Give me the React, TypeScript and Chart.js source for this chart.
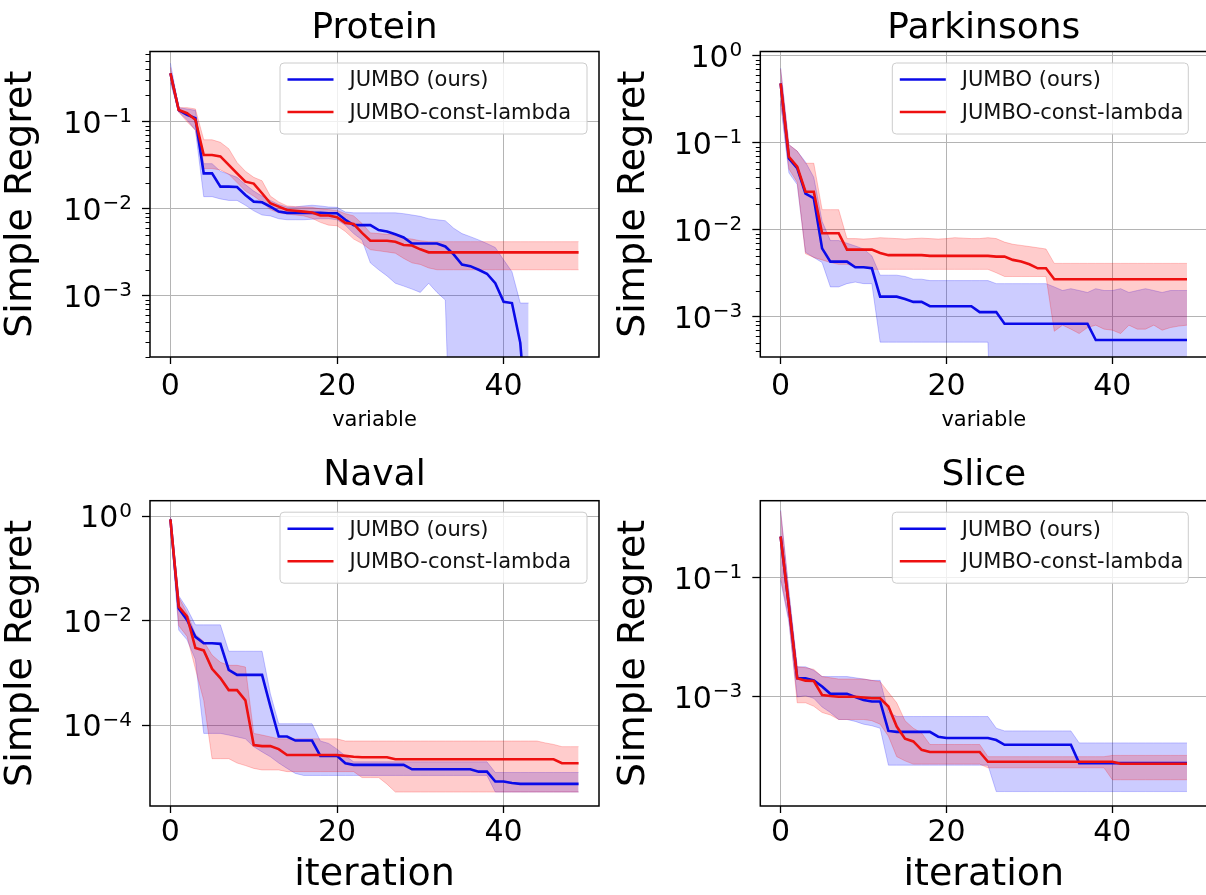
import React, { useEffect, useRef } from "react";
import { Chart, registerables } from "chart.js";

Chart.register(...registerables);

// ---------------- data ----------------
const ITERATIONS = [
  0, 1, 2, 3, 4, 5, 6, 7, 8, 9, 10, 11, 12, 13, 14, 15, 16, 17, 18, 19, 20, 21, 22, 23, 24,
  25, 26, 27, 28, 29, 30, 31, 32, 33, 34, 35, 36, 37, 38, 39, 40, 41, 42, 43, 44, 45, 46, 47, 48, 49,
];
const X_TICKS = [0, 20, 40];
const SERIES_NAMES = ["JUMBO (ours)", "JUMBO-const-lambda"];
const PANEL_TITLES = ["Protein", "Parkinsons", "Naval", "Slice"];
const Y_AXIS_TITLE = "Simple Regret";
const X_AXIS_TITLES = ["variable", "variable", "iteration", "iteration"];
const Y_TICK_BASE = "10";

const PROTEIN_Y_TICKS = [1e-1, 1e-2, 1e-3];
const PROTEIN_Y_EXPONENTS = ["−1", "−2", "−3"];
const PARKINSONS_Y_TICKS = [1, 1e-1, 1e-2, 1e-3];
const PARKINSONS_Y_EXPONENTS = ["0", "−1", "−2", "−3"];
const NAVAL_Y_TICKS = [1, 1e-2, 1e-4];
const NAVAL_Y_EXPONENTS = ["0", "−2", "−4"];
const SLICE_Y_TICKS = [1e-1, 1e-3];
const SLICE_Y_EXPONENTS = ["−1", "−3"];

// Protein
const PROTEIN_JUMBO = [
  0.36, 0.136, 0.12, 0.11, 0.0255, 0.0255, 0.018, 0.018, 0.0178, 0.0144,
  0.0121, 0.0119, 0.0106, 0.0093, 0.009, 0.009, 0.009, 0.009, 0.009, 0.0089,
  0.0089, 0.0075, 0.0065, 0.0065, 0.0065, 0.0057, 0.0055, 0.0051, 0.0047, 0.004,
  0.004, 0.004, 0.004, 0.0037, 0.003, 0.0023, 0.0022, 0.002, 0.0018, 0.0014,
  0.00086, 0.00083, 0.00029, 0.00002, null, null, null, null, null, null,
];
const PROTEIN_JUMBO_UPPER = [
  0.47, 0.145, 0.14, 0.135, 0.033, 0.033, 0.027, 0.025, 0.023, 0.019,
  0.016, 0.014, 0.0125, 0.0112, 0.0105, 0.0105, 0.0108, 0.011, 0.0108, 0.0105,
  0.0104, 0.0092, 0.009, 0.009, 0.009, 0.009, 0.009, 0.009, 0.0088, 0.0085,
  0.0082, 0.0077, 0.0075, 0.0073, 0.006, 0.0052, 0.0048, 0.0044, 0.004, 0.0036,
  0.0026, 0.0019, 0.00083, 0.00083, null, null, null, null, null, null,
];
const PROTEIN_JUMBO_LOWER = [
  0.28, 0.13, 0.105, 0.08, 0.0138, 0.0138, 0.013, 0.0125, 0.0125, 0.011,
  0.0095, 0.0085, 0.0083, 0.0077, 0.0075, 0.0075, 0.0075, 0.0076, 0.0077, 0.0077,
  0.0075, 0.0065, 0.0052, 0.0044, 0.0024, 0.002, 0.0017, 0.0014, 0.0013, 0.0012,
  0.0011, 0.0014, 0.0011, 0.0009, 1e-6, 1e-6, 1e-6, 1e-6, 1e-6, 1e-6,
  1e-6, 1e-6, 1e-6, 1e-6, null, null, null, null, null, null,
];
const PROTEIN_CONST = [
  0.36, 0.136, 0.125, 0.105, 0.0415, 0.0415, 0.04, 0.0319, 0.0255, 0.0205,
  0.0195, 0.0151, 0.0116, 0.0106, 0.0097, 0.0095, 0.0093, 0.0091, 0.0084, 0.0084,
  0.008, 0.0069, 0.0067, 0.0053, 0.0043, 0.0043, 0.0043, 0.0042, 0.00385, 0.0038,
  0.00343, 0.00317, 0.00317, 0.00317, 0.00317, 0.00317, 0.00317, 0.00317, 0.00317, 0.00317,
  0.00317, 0.00317, 0.00317, 0.00317, 0.00317, 0.00317, 0.00317, 0.00317, 0.00317, 0.00317,
];
const PROTEIN_CONST_UPPER = [
  0.42, 0.145, 0.145, 0.14, 0.062, 0.062, 0.058, 0.049, 0.034, 0.027,
  0.023, 0.021, 0.014, 0.012, 0.0108, 0.0106, 0.0105, 0.0104, 0.01, 0.0098,
  0.0096, 0.0088, 0.0083, 0.0068, 0.0053, 0.0052, 0.0051, 0.005, 0.0046, 0.0045,
  0.0043, 0.0042, 0.0042, 0.0042, 0.0042, 0.0042, 0.0042, 0.0042, 0.0042, 0.0042,
  0.0042, 0.0042, 0.0042, 0.0042, 0.0042, 0.0042, 0.0042, 0.0042, 0.0042, 0.0042,
];
const PROTEIN_CONST_LOWER = [
  0.3, 0.128, 0.1, 0.08, 0.029, 0.029, 0.028, 0.025, 0.02, 0.016,
  0.014, 0.012, 0.0098, 0.009, 0.0087, 0.0085, 0.0083, 0.0078, 0.007, 0.0065,
  0.0064, 0.0055, 0.0045, 0.004, 0.0034, 0.0033, 0.0032, 0.0031, 0.0027, 0.0024,
  0.0023, 0.0021, 0.002, 0.002, 0.002, 0.002, 0.002, 0.002, 0.002, 0.002,
  0.002, 0.002, 0.002, 0.002, 0.002, 0.002, 0.002, 0.002, 0.002, 0.002,
];

// Parkinsons
const PARKINSONS_JUMBO = [
  0.48, 0.066, 0.051, 0.026, 0.023, 0.0061, 0.0043, 0.0043, 0.0043, 0.0037,
  0.0037, 0.0036, 0.0017, 0.0017, 0.0017, 0.0016, 0.00148, 0.00148, 0.00132, 0.00132,
  0.00132, 0.00132, 0.00132, 0.00132, 0.00113, 0.00113, 0.00113, 0.00083, 0.00083, 0.00083,
  0.00083, 0.00083, 0.00083, 0.00083, 0.00083, 0.00083, 0.00083, 0.00083, 0.00054, 0.00054,
  0.00054, 0.00054, 0.00054, 0.00054, 0.00054, 0.00054, 0.00054, 0.00054, 0.00054, 0.00054,
];
const PARKINSONS_JUMBO_UPPER = [
  0.72, 0.095, 0.08, 0.06, 0.04, 0.0125, 0.0075, 0.0075, 0.007, 0.0065,
  0.006, 0.005, 0.003, 0.003, 0.003, 0.0029, 0.0027, 0.0027, 0.0026, 0.0026,
  0.0026, 0.0026, 0.0026, 0.0026, 0.0026, 0.0026, 0.0024, 0.0024, 0.0024, 0.0024,
  0.0024, 0.0024, 0.0024, 0.0022, 0.002, 0.0021, 0.002, 0.0019, 0.0021, 0.002,
  0.002, 0.0021, 0.0019, 0.002, 0.0021, 0.002, 0.0019, 0.002, 0.002, 0.002,
];
const PARKINSONS_JUMBO_LOWER = [
  0.28, 0.045, 0.033, 0.0055, 0.0048, 0.0042, 0.0022, 0.0022, 0.0024, 0.0025,
  0.0024, 0.0024, 0.00051, 0.00051, 0.00051, 0.00051, 0.00051, 0.00051, 0.00051, 0.00051,
  0.00051, 0.00051, 0.00051, 0.00051, 0.00051, 0.00051, 1e-6, 1e-6, 1e-6, 1e-6,
  1e-6, 1e-6, 1e-6, 1e-6, 1e-6, 1e-6, 1e-6, 1e-6, 1e-6, 1e-6,
  1e-6, 1e-6, 1e-6, 1e-6, 1e-6, 1e-6, 1e-6, 1e-6, 1e-6, 1e-6,
];
const PARKINSONS_CONST = [
  0.48, 0.069, 0.053, 0.0273, 0.0273, 0.0091, 0.0091, 0.0091, 0.0059, 0.0059,
  0.0059, 0.0059, 0.0054, 0.0051, 0.0051, 0.0051, 0.0051, 0.0051, 0.005, 0.005,
  0.005, 0.005, 0.005, 0.005, 0.005, 0.005, 0.0049, 0.0049, 0.0045, 0.0043,
  0.004, 0.0036, 0.0036, 0.0027, 0.0027, 0.0027, 0.0027, 0.0027, 0.0027, 0.0027,
  0.0027, 0.0027, 0.0027, 0.0027, 0.0027, 0.0027, 0.0027, 0.0027, 0.0027, 0.0027,
];
const PARKINSONS_CONST_UPPER = [
  0.7, 0.095, 0.08, 0.058, 0.058, 0.017, 0.017, 0.017, 0.0079, 0.0079,
  0.0078, 0.0079, 0.0081, 0.008, 0.0079, 0.0078, 0.0079, 0.008, 0.0079, 0.0078,
  0.0079, 0.0081, 0.008, 0.0079, 0.0079, 0.0081, 0.0079, 0.0072, 0.0068, 0.0066,
  0.0064, 0.0062, 0.006, 0.0041, 0.0041, 0.0041, 0.0041, 0.0041, 0.0041, 0.0041,
  0.0041, 0.0041, 0.0041, 0.0041, 0.0041, 0.0041, 0.0041, 0.0041, 0.0041, 0.0041,
];
const PARKINSONS_CONST_LOWER = [
  0.3, 0.05, 0.035, 0.0053, 0.0048, 0.0045, 0.0042, 0.004, 0.004, 0.0038,
  0.0037, 0.0035, 0.0035, 0.0035, 0.0035, 0.0035, 0.0035, 0.0035, 0.0035, 0.0035,
  0.0035, 0.0035, 0.0035, 0.0035, 0.0035, 0.0035, 0.0032, 0.0029, 0.0029, 0.0029,
  0.0029, 0.0029, 0.0029, 0.00068, 0.0008, 0.00072, 0.00064, 0.00075, 0.0008, 0.00072,
  0.0007, 0.00064, 0.0008, 0.00072, 0.00072, 0.0008, 0.0007, 0.00075, 0.00078, 0.0008,
];

// Naval
const NAVAL_JUMBO = [
  0.86, 0.017, 0.0103, 0.0049, 0.0037, 0.0037, 0.0036, 0.00114, 0.00092, 0.00092,
  0.00092, 0.00092, 0.00023, 6.1e-5, 6.1e-5, 5.1e-5, 5.1e-5, 5.1e-5, 2.6e-5, 2.6e-5,
  2.6e-5, 1.88e-5, 1.75e-5, 1.75e-5, 1.75e-5, 1.75e-5, 1.75e-5, 1.75e-5, 1.75e-5, 1.44e-5,
  1.44e-5, 1.44e-5, 1.44e-5, 1.44e-5, 1.44e-5, 1.44e-5, 1.44e-5, 1.3e-5, 1.3e-5, 8.4e-6,
  8.4e-6, 7.9e-6, 7.6e-6, 7.6e-6, 7.6e-6, 7.6e-6, 7.6e-6, 7.6e-6, 7.6e-6, 7.6e-6,
];
const NAVAL_JUMBO_UPPER = [
  0.97, 0.03, 0.017, 0.0083, 0.0083, 0.0083, 0.0083, 0.0026, 0.0026, 0.0026,
  0.0026, 0.0026, 0.0004, 1.07e-4, 1.07e-4, 1.07e-4, 1.07e-4, 1.07e-4, 5e-5, 4.5e-5,
  3.5e-5, 2.6e-5, 2e-5, 2e-5, 2e-5, 2e-5, 2e-5, 2e-5, 2e-5, 2e-5,
  2e-5, 2e-5, 2e-5, 2e-5, 2e-5, 2e-5, 2e-5, 2e-5, 2e-5, 1.25e-5,
  1.25e-5, 1.25e-5, 1.25e-5, 1.25e-5, 1.25e-5, 1.25e-5, 1.25e-5, 1.25e-5, 1.25e-5, 1.25e-5,
];
const NAVAL_JUMBO_LOWER = [
  0.75, 0.0066, 0.0043, 0.0018, 7e-5, 7e-5, 7e-5, 6.5e-5, 6e-5, 5.5e-5,
  3.9e-5, 3.1e-5, 2.5e-5, 1.9e-5, 1.5e-5, 1.2e-5, 1.1e-5, 1.1e-5, 1.1e-5, 1.1e-5,
  1.1e-5, 1.1e-5, 1.1e-5, 1.1e-5, 1.1e-5, 1.1e-5, 1.1e-5, 1.1e-5, 1.1e-5, 1.1e-5,
  1.1e-5, 1.1e-5, 1.1e-5, 1.1e-5, 1.1e-5, 1.1e-5, 1.1e-5, 1.1e-5, 1.1e-5, 5.3e-6,
  5.3e-6, 5.3e-6, 5.3e-6, 5.3e-6, 5.3e-6, 5.3e-6, 5.3e-6, 5.3e-6, 5.3e-6, 5.3e-6,
];
const NAVAL_CONST = [
  0.86, 0.0185, 0.012, 0.003, 0.0027, 0.0012, 0.0008, 0.00047, 0.00047, 0.0003,
  4.2e-5, 4e-5, 4e-5, 3.5e-5, 2.7e-5, 2.7e-5, 2.7e-5, 2.7e-5, 2.7e-5, 2.7e-5,
  2.7e-5, 2.6e-5, 2.5e-5, 2.45e-5, 2.45e-5, 2.45e-5, 2.45e-5, 2.24e-5, 2.24e-5, 2.24e-5,
  2.24e-5, 2.24e-5, 2.24e-5, 2.24e-5, 2.24e-5, 2.24e-5, 2.24e-5, 2.24e-5, 2.24e-5, 2.24e-5,
  2.24e-5, 2.24e-5, 2.24e-5, 2.24e-5, 2.24e-5, 2.24e-5, 2.24e-5, 1.88e-5, 1.88e-5, 1.88e-5,
];
const NAVAL_CONST_UPPER = [
  0.95, 0.028, 0.014, 0.0055, 0.004, 0.0022, 0.0016, 0.0014, 0.0014, 0.0013,
  7e-5, 6.5e-5, 6e-5, 5.5e-5, 5.5e-5, 5.5e-5, 5.5e-5, 5.5e-5, 5.5e-5, 5.5e-5,
  5.5e-5, 5e-5, 5e-5, 5e-5, 5e-5, 5e-5, 5e-5, 5e-5, 5e-5, 5e-5,
  5e-5, 5e-5, 5e-5, 5e-5, 5e-5, 5e-5, 5e-5, 5e-5, 5e-5, 5e-5,
  5e-5, 5e-5, 5e-5, 5e-5, 5e-5, 4.6e-5, 4.3e-5, 3.9e-5, 3.9e-5, 3.9e-5,
];
const NAVAL_CONST_LOWER = [
  0.75, 0.008, 0.005, 0.0012, 0.0003, 2.3e-5, 2.3e-5, 2.3e-5, 1.9e-5, 1.7e-5,
  1.5e-5, 1.4e-5, 1.4e-5, 1.4e-5, 1.3e-5, 1.3e-5, 1.3e-5, 1.3e-5, 1.3e-5, 1.3e-5,
  1.3e-5, 1.3e-5, 1.3e-5, 1e-5, 1e-5, 1e-5, 7.5e-6, 5.3e-6, 5.3e-6, 5.3e-6,
  5.3e-6, 5.3e-6, 5.3e-6, 5.3e-6, 5.3e-6, 5.3e-6, 5.3e-6, 5.3e-6, 5.3e-6, 5.3e-6,
  5.3e-6, 5.3e-6, 5.3e-6, 5.3e-6, 5.3e-6, 5.3e-6, 5.3e-6, 5.3e-6, 5.3e-6, 5.3e-6,
];

// Slice
const SLICE_JUMBO = [
  0.49, 0.033, 0.00206, 0.00206, 0.0019, 0.0015, 0.00113, 0.00113, 0.00113, 0.001,
  0.00089, 0.00084, 0.00084, 0.00027, 0.00026, 0.00026, 0.00026, 0.00026, 0.00026, 0.000216,
  0.000205, 0.000205, 0.000205, 0.000205, 0.000205, 0.000205, 0.00019, 0.000158, 0.000158, 0.000158,
  0.000158, 0.000158, 0.000158, 0.000158, 0.000158, 0.000158, 7.8e-5, 7.8e-5, 7.8e-5, 7.8e-5,
  7.8e-5, 7.8e-5, 7.8e-5, 7.8e-5, 7.8e-5, 7.8e-5, 7.8e-5, 7.8e-5, 7.8e-5, 7.8e-5,
];
const SLICE_JUMBO_UPPER = [
  1.35, 0.06, 0.0032, 0.0032, 0.0028, 0.0022, 0.0022, 0.0022, 0.0022, 0.0021,
  0.002, 0.0019, 0.0019, 0.00055, 0.00047, 0.00047, 0.00047, 0.00047, 0.00047, 0.00047,
  0.00047, 0.00047, 0.00047, 0.00047, 0.00047, 0.00047, 0.0003, 0.00027, 0.00027, 0.00027,
  0.00027, 0.00027, 0.00027, 0.00027, 0.00027, 0.00027, 0.00017, 0.00017, 0.00017, 0.00017,
  0.00017, 0.00017, 0.00017, 0.00017, 0.00017, 0.00017, 0.00017, 0.00017, 0.00017, 0.00017,
];
const SLICE_JUMBO_LOWER = [
  0.09, 0.018, 0.001, 0.00105, 0.00095, 0.00068, 0.00055, 0.00042, 0.00042, 0.00039,
  0.00035, 0.00033, 0.0003, 7.2e-5, 7.2e-5, 7.2e-5, 7.2e-5, 7.2e-5, 7.2e-5, 7.2e-5,
  7.2e-5, 7.2e-5, 7.2e-5, 7.2e-5, 7.2e-5, 7.2e-5, 2.6e-5, 2.6e-5, 2.6e-5, 2.6e-5,
  2.6e-5, 2.6e-5, 2.6e-5, 2.6e-5, 2.6e-5, 2.6e-5, 2.6e-5, 2.6e-5, 2.6e-5, 2.6e-5,
  2.6e-5, 2.6e-5, 2.6e-5, 2.6e-5, 2.6e-5, 2.6e-5, 2.6e-5, 2.6e-5, 2.6e-5, 2.6e-5,
];
const SLICE_CONST = [
  0.49, 0.033, 0.00206, 0.00188, 0.00185, 0.00108, 0.00104, 0.00101, 0.00101, 0.00101,
  0.00098, 0.00095, 0.00095, 0.00069, 0.00032, 0.0002, 0.00018, 0.00013, 0.00012, 0.00012,
  0.00012, 0.00012, 0.00012, 0.00012, 0.00012, 8.2e-5, 8.2e-5, 8.2e-5, 8.2e-5, 8.2e-5,
  8.2e-5, 8.2e-5, 8.2e-5, 8.2e-5, 8.2e-5, 8.2e-5, 8.2e-5, 8.2e-5, 8.2e-5, 8.2e-5,
  8.2e-5, 7.6e-5, 7.6e-5, 7.6e-5, 7.6e-5, 7.6e-5, 7.6e-5, 7.6e-5, 7.6e-5, 7.6e-5,
];
const SLICE_CONST_UPPER = [
  1.3, 0.055, 0.0032, 0.0031, 0.0029, 0.0022, 0.0021, 0.002, 0.002, 0.002,
  0.002, 0.0019, 0.0018, 0.0012, 0.0008, 0.0004, 0.0003, 0.00025, 0.00016, 0.00016,
  0.00016, 0.00016, 0.00016, 0.00016, 0.00016, 1e-4, 1e-4, 1e-4, 1e-4, 1e-4,
  1e-4, 1e-4, 1e-4, 1e-4, 1e-4, 1e-4, 1e-4, 1e-4, 1e-4, 1e-4,
  1.05e-4, 1.05e-4, 1.05e-4, 1.05e-4, 1.05e-4, 1.05e-4, 1.05e-4, 1.05e-4, 1.05e-4, 1.05e-4,
];
const SLICE_CONST_LOWER = [
  0.1, 0.02, 0.0008, 0.0008, 0.0007, 0.00055, 0.0005, 0.00042, 0.00042, 0.00042,
  0.00042, 0.0004, 0.00035, 0.00022, 0.0001, 8.5e-5, 7.5e-5, 7.5e-5, 7.5e-5, 7.5e-5,
  7.5e-5, 7.5e-5, 7.5e-5, 7.5e-5, 7.5e-5, 6.5e-5, 6.5e-5, 6.5e-5, 6.5e-5, 6.5e-5,
  6.5e-5, 6.5e-5, 6.5e-5, 6.5e-5, 6.5e-5, 6.5e-5, 6.5e-5, 6.5e-5, 6.5e-5, 6.5e-5,
  4.1e-5, 4.1e-5, 4.1e-5, 4.1e-5, 4.1e-5, 4.1e-5, 4.1e-5, 4.1e-5, 4.1e-5, 4.1e-5,
];

// ---------------- styling ----------------
const FONT = '"DejaVu Sans", "Liberation Sans", sans-serif';
const BLUE = "#0a0ae8";
const RED = "#ee1010";
const BLUE_FILL = "rgba(0,0,255,0.2)";
const RED_FILL = "rgba(255,0,0,0.2)";
const BLUE_EDGE = "rgba(0,0,255,0.22)";
const RED_EDGE = "rgba(255,0,0,0.22)";
const GRID = "#b4b4b4";

type Arr = (number | null)[];
type PanelCfg = {
  title: string;
  xTitle: string;
  xTitleSize: number;
  xTitlePad: number;
  xTickPad: number;
  yTitlePad: number;
  titleGap: number;
  box: { x: number; y: number; w: number; h: number };
  chartLeft: number;
  chartTop: number;
  xAxisHeight: number;
  padRight: number;
  yMin: number;
  yMax: number;
  yTicks: number[];
  yExps: string[];
  minor: boolean;
  legendDx: number;
  legendW: number;
  jumbo: Arr;
  jumboUpper: Arr;
  jumboLower: Arr;
  cst: Arr;
  cstUpper: Arr;
  cstLower: Arr;
};

const PANELS: PanelCfg[] = [
  {
    title: PANEL_TITLES[0], xTitle: X_AXIS_TITLES[0], xTitleSize: 21, xTitlePad: 8.8, xTickPad: 5,
    yTitlePad: 2.2, titleGap: 14,
    box: { x: 0, y: 0, w: 603, h: 440 }, chartLeft: 150, chartTop: 51.5, xAxisHeight: 83, padRight: 4,
    yMin: Math.pow(10, -3.7), yMax: Math.pow(10, -0.1945),
    yTicks: PROTEIN_Y_TICKS, yExps: PROTEIN_Y_EXPONENTS, minor: true, legendDx: 130, legendW: 307,
    jumbo: PROTEIN_JUMBO, jumboUpper: PROTEIN_JUMBO_UPPER, jumboLower: PROTEIN_JUMBO_LOWER,
    cst: PROTEIN_CONST, cstUpper: PROTEIN_CONST_UPPER, cstLower: PROTEIN_CONST_LOWER,
  },
  {
    title: PANEL_TITLES[1], xTitle: X_AXIS_TITLES[1], xTitleSize: 21, xTitlePad: 8.8, xTickPad: 5,
    yTitlePad: 12.2, titleGap: 13.5,
    box: { x: 603, y: 0, w: 620, h: 440 }, chartLeft: 157.3, chartTop: 51.5, xAxisHeight: 83, padRight: 15.7,
    yMin: Math.pow(10, -3.463), yMax: Math.pow(10, 0.048),
    yTicks: PARKINSONS_Y_TICKS, yExps: PARKINSONS_Y_EXPONENTS, minor: true, legendDx: 132, legendW: 296,
    jumbo: PARKINSONS_JUMBO, jumboUpper: PARKINSONS_JUMBO_UPPER, jumboLower: PARKINSONS_JUMBO_LOWER,
    cst: PARKINSONS_CONST, cstUpper: PARKINSONS_CONST_UPPER, cstLower: PARKINSONS_CONST_LOWER,
  },
  {
    title: PANEL_TITLES[2], xTitle: X_AXIS_TITLES[2], xTitleSize: 38, xTitlePad: 1.1, xTickPad: 2.5,
    yTitlePad: 2.2, titleGap: 15.5,
    box: { x: 0, y: 440, w: 603, h: 455 }, chartLeft: 150, chartTop: 60.7, xAxisHeight: 89, padRight: 4,
    yMin: Math.pow(10, -5.543), yMax: Math.pow(10, 0.2925),
    yTicks: NAVAL_Y_TICKS, yExps: NAVAL_Y_EXPONENTS, minor: false, legendDx: 130, legendW: 307,
    jumbo: NAVAL_JUMBO, jumboUpper: NAVAL_JUMBO_UPPER, jumboLower: NAVAL_JUMBO_LOWER,
    cst: NAVAL_CONST, cstUpper: NAVAL_CONST_UPPER, cstLower: NAVAL_CONST_LOWER,
  },
  {
    title: PANEL_TITLES[3], xTitle: X_AXIS_TITLES[3], xTitleSize: 38, xTitlePad: 1.1, xTickPad: 2.5,
    yTitlePad: 12.2, titleGap: 15.5,
    box: { x: 603, y: 440, w: 620, h: 455 }, chartLeft: 157.3, chartTop: 60.7, xAxisHeight: 89, padRight: 15.7,
    yMin: Math.pow(10, -4.827), yMax: Math.pow(10, 0.29),
    yTicks: SLICE_Y_TICKS, yExps: SLICE_Y_EXPONENTS, minor: false, legendDx: 132, legendW: 296,
    jumbo: SLICE_JUMBO, jumboUpper: SLICE_JUMBO_UPPER, jumboLower: SLICE_JUMBO_LOWER,
    cst: SLICE_CONST, cstUpper: SLICE_CONST_UPPER, cstLower: SLICE_CONST_LOWER,
  },
];

function decorPlugin(c: PanelCfg) {
  return {
    id: "decor_" + c.title,
    afterDraw(chart: any) {
      const ctx: CanvasRenderingContext2D = chart.ctx;
      const ca = chart.chartArea;
      const ys = chart.scales.y;
      ctx.save();
      // minor ticks on log axis
      if (c.minor) {
        ctx.strokeStyle = "#000";
        ctx.lineWidth = 1;
        const k0 = Math.floor(Math.log10(ys.min));
        const k1 = Math.ceil(Math.log10(ys.max));
        for (let k = k0; k <= k1; k++) {
          for (let m = 2; m <= 9; m++) {
            const v = m * Math.pow(10, k);
            if (v < ys.min || v > ys.max) continue;
            const y = Math.round(ys.getPixelForValue(v)) + 0.5;
            ctx.beginPath();
            ctx.moveTo(ca.left - 4.5, y);
            ctx.lineTo(ca.left, y);
            ctx.stroke();
          }
        }
      }
      // y tick labels: "10" with a raised exponent (mathtext style)
      ctx.fillStyle = "#000";
      ctx.textAlign = "right";
      ctx.textBaseline = "alphabetic";
      c.yTicks.forEach((v, i) => {
        const y = ys.getPixelForValue(v);
        const xr = ca.left - 18;
        ctx.font = `20px ${FONT}`;
        const ew = ctx.measureText(c.yExps[i]).width;
        ctx.fillText(c.yExps[i], xr, y + 0.5);
        ctx.font = `30px ${FONT}`;
        ctx.fillText(Y_TICK_BASE, xr - ew - 1, y + 11);
      });

      // frame
      ctx.strokeStyle = "#000";
      ctx.lineWidth = 1.5;
      ctx.strokeRect(ca.left, ca.top, ca.right - ca.left, ca.bottom - ca.top);

      // legend
      const lx = ca.left + c.legendDx;
      const ly = ca.top + 11.5;
      const lw = c.legendW;
      const lh = 71;
      ctx.beginPath();
      (ctx as any).roundRect(lx, ly, lw, lh, 4);
      ctx.fillStyle = "rgba(255,255,255,0.8)";
      ctx.fill();
      ctx.strokeStyle = "#cccccc";
      ctx.lineWidth = 1;
      ctx.stroke();
      const rows = [
        { color: BLUE, text: SERIES_NAMES[0] },
        { color: RED, text: SERIES_NAMES[1] },
      ];
      rows.forEach((r, i) => {
        const y = ly + 16.5 + i * 32.5;
        ctx.strokeStyle = r.color;
        ctx.lineWidth = 2.5;
        ctx.beginPath();
        ctx.moveTo(lx + 7.5, y);
        ctx.lineTo(lx + 53.5, y);
        ctx.stroke();
        ctx.fillStyle = "#111";
        ctx.font = `21px ${FONT}`;
        ctx.textAlign = "left";
        ctx.textBaseline = "middle";
        ctx.fillText(r.text, lx + 69.5, y + 1.5);
      });

      // title
      ctx.fillStyle = "#000";
      ctx.font = `36px ${FONT}`;
      ctx.textAlign = "center";
      ctx.textBaseline = "alphabetic";
      ctx.fillText(c.title, (ca.left + ca.right) / 2, ca.top - c.titleGap);
      ctx.restore();
    },
  };
}

function buildConfig(c: PanelCfg): any {
  const pts = (arr: Arr) => arr.map((v, i) => ({ x: ITERATIONS[i], y: v }));
  const line = (label: string, data: Arr, color: string) => ({
    label, data: pts(data), borderColor: color, backgroundColor: color, borderWidth: 2.6,
    pointRadius: 0, fill: false, tension: 0, order: 1, spanGaps: false,
  });
  const band = (label: string, data: Arr, edge: string, fillColor: string, fill: any) => ({
    label, data: pts(data), borderColor: edge, backgroundColor: fillColor, borderWidth: 1,
    pointRadius: 0, fill, tension: 0, order: 2, spanGaps: false,
  });
  return {
    type: "line",
    data: {
      datasets: [
        line(SERIES_NAMES[1], c.cst, RED),
        line(SERIES_NAMES[0], c.jumbo, BLUE),
        band("const upper", c.cstUpper, RED_EDGE, RED_FILL, "+1"),
        band("const lower", c.cstLower, RED_EDGE, RED_FILL, false),
        band("jumbo upper", c.jumboUpper, BLUE_EDGE, BLUE_FILL, "+1"),
        band("jumbo lower", c.jumboLower, BLUE_EDGE, BLUE_FILL, false),
      ],
    },
    options: {
      responsive: false,
      animation: false,
      devicePixelRatio: 1,
      events: [],
      layout: { padding: { top: c.chartTop, left: 0, right: c.padRight, bottom: 0 } },
      plugins: { legend: { display: false }, title: { display: false }, tooltip: { enabled: false } },
      scales: {
        x: {
          type: "linear",
          min: -2.45,
          max: 51.45,
          bounds: "data",
          afterBuildTicks: (s: any) => {
            s.ticks = X_TICKS.map((v) => ({ value: v }));
          },
          afterFit: (s: any) => {
            s.height = c.xAxisHeight;
          },
          ticks: {
            autoSkip: false,
            maxRotation: 0,
            padding: c.xTickPad,
            color: "#000",
            font: { family: FONT, size: 30 },
            callback: (v: any) => String(v),
          },
          grid: { color: GRID, lineWidth: 1, tickColor: "#000", tickLength: 7, tickWidth: 1.3 },
          border: { display: false },
          title: {
            display: true,
            text: c.xTitle,
            color: "#000",
            font: { family: FONT, size: c.xTitleSize, lineHeight: 1 },
            padding: { top: 0, bottom: c.xTitlePad },
          },
        },
        y: {
          type: "logarithmic",
          min: c.yMin,
          max: c.yMax,
          bounds: "data",
          afterBuildTicks: (s: any) => {
            s.ticks = c.yTicks.map((v) => ({ value: v, major: true }));
          },
          afterFit: (s: any) => {
            s.width = c.chartLeft;
          },
          ticks: { display: false, autoSkip: false },
          grid: { color: GRID, lineWidth: 1, tickColor: "#000", tickLength: 8, tickWidth: 1.3 },
          border: { display: false },
          title: {
            display: true,
            text: Y_AXIS_TITLE,
            color: "#000",
            font: { family: FONT, size: 38, lineHeight: 1 },
            padding: { top: c.yTitlePad, bottom: 0 },
          },
        },
      },
    },
    plugins: [decorPlugin(c)],
  };
}

function Panel({ cfg }: { cfg: PanelCfg }) {
  const ref = useRef<HTMLCanvasElement>(null);
  useEffect(() => {
    const chart = new Chart(ref.current as HTMLCanvasElement, buildConfig(cfg));
    return () => chart.destroy();
  }, [cfg]);
  return (
    <canvas
      ref={ref}
      width={cfg.box.w}
      height={cfg.box.h}
      style={{ position: "absolute", left: cfg.box.x, top: cfg.box.y, width: cfg.box.w, height: cfg.box.h }}
    />
  );
}

export default function App() {
  return (
    <div
      style={{
        position: "fixed",
        left: 0,
        top: 0,
        width: 1206,
        height: 895,
        overflow: "hidden",
        background: "#fff",
      }}
    >
      {PANELS.map((p) => (
        <Panel key={p.title} cfg={p} />
      ))}
    </div>
  );
}
